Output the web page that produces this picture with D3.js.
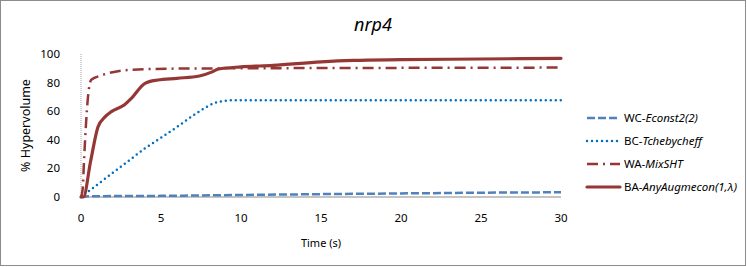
<!DOCTYPE html>
<html>
<head>
<meta charset="utf-8">
<script src="https://cdnjs.cloudflare.com/ajax/libs/d3/7.8.5/d3.min.js"></script>
<style>
  body { margin: 0; background: #fff; }
  text { font-family: "Noto Sans", "Open Sans", sans-serif; fill: #000; }
</style>
</head>
<body>
<div class="svg-container"></div>
<script>
// Data
const xTicks = [0, 5, 10, 15, 20, 25, 30];
const yTicks = [0, 20, 40, 60, 80, 100];

const wcEconst = [[0, 0], [0.5, 0.5], [5, 0.8], [10, 1.4], [15, 2], [20, 2.5], [25, 3], [30, 3.3]];
const bcTcheby = [[0, 0], [1, 8.5], [2, 17], [3, 25.5], [4, 34], [5, 41.5], [6, 49], [7, 57], [7.7, 62], [8.3, 65.5], [9, 67.3], [9.5, 67.7], [30, 67.7]];
const waMixSHT = [[0, 0], [0.1, 5], [0.2, 28], [0.42, 68], [0.64, 82], [1.27, 85], [2.9, 88.8], [6, 89.8], [10, 90], [20, 90.3], [30, 90.5]];
const baAnyAug = [[0, 0], [0.15, 0], [0.6, 25], [1.06, 49], [1.5, 56], [1.9, 59.7], [2.7, 64.3], [3.15, 69], [4, 79.5], [4.8, 81.8], [6, 83], [7.4, 84.6], [8.2, 87.5], [8.6, 89.5], [10, 91], [12, 92], [15, 94.5], [17, 95.5], [20, 96], [25, 96.5], [30, 97]];

const seriesNames = ['WC-', 'BC-', 'WA-', 'BA-'];
const seriesItalic = ['Econst2(2)', 'Tchebycheff', 'MixSHT', 'AnyAugmecon(1,λ)'];

// Layout
const W = 747, H = 267;
const margin = {top: 54, right: 186, bottom: 70, left: 81};
const width = W - margin.left - margin.right;
const height = H - margin.top - margin.bottom;

const svg = d3.select('.svg-container')
    .append('svg')
    .attr('width', W)
    .attr('height', H);

svg.append('rect')
    .attr('x', 0.5).attr('y', 0.5)
    .attr('width', W - 2).attr('height', H - 2)
    .attr('fill', '#fff')
    .attr('stroke', '#8c8c8c');

const g = svg.append('g')
    .attr('transform', `translate(${margin.left}, ${margin.top})`);

const x = d3.scaleLinear().domain([0, 30]).range([0, width]);
const y = d3.scaleLinear().domain([0, 100]).range([height, 0]);

// axes
g.append('line')
    .attr('x1', 0).attr('x2', 0)
    .attr('y1', 0).attr('y2', height)
    .attr('stroke', '#a6a6a6')
    .attr('stroke-dasharray', '1,1');

g.append('line')
    .attr('x1', 0).attr('x2', width)
    .attr('y1', height).attr('y2', height)
    .attr('stroke', '#b0b0b0')
    .attr('stroke-width', 1.5);

g.selectAll('.ytick')
    .data(yTicks)
    .enter().append('text')
      .attr('class', 'ytick')
      .attr('x', -21)
      .attr('y', d => y(d))
      .attr('dy', '0.35em')
      .attr('text-anchor', 'end')
      .style('font-size', '11.5px')
      .text(d => d);

g.selectAll('.xtick')
    .data(xTicks)
    .enter().append('text')
      .attr('class', 'xtick')
      .attr('x', d => x(d))
      .attr('y', height + 25)
      .attr('text-anchor', 'middle')
      .style('font-size', '11.5px')
      .text(d => d);

// series
const line = d3.line()
    .x(d => x(d[0]))
    .y(d => y(d[1]))
    .curve(d3.curveMonotoneX);

const styles = [
  {data: wcEconst, color: '#4f81bd', w: 2.5, dash: '8,3', cap: 'butt'},
  {data: bcTcheby, color: '#0070c0', w: 2.5, dash: '0,5', cap: 'round'},
  {data: waMixSHT, color: '#953735', w: 2.5, dash: '11,5,2,5', cap: 'butt'},
  {data: baAnyAug, color: '#953735', w: 3.2, dash: null, cap: 'round'}
];

styles.forEach(s => {
  g.append('path')
    .datum(s.data)
    .attr('fill', 'none')
    .attr('stroke', s.color)
    .attr('stroke-width', s.w)
    .attr('stroke-linecap', s.cap)
    .attr('stroke-dasharray', s.dash)
    .attr('d', line);
});

// title + axis labels
svg.append('text')
    .attr('x', 373)
    .attr('y', 31)
    .attr('text-anchor', 'middle')
    .style('font-size', '18px')
    .style('font-style', 'italic')
    .text('nrp4');

svg.append('text')
    .attr('x', 321)
    .attr('y', 247)
    .attr('text-anchor', 'middle')
    .style('font-size', '11px')
    .text('Time (s)');

svg.append('text')
    .attr('transform', `translate(30, ${margin.top + height / 2}) rotate(-90)`)
    .attr('text-anchor', 'middle')
    .style('font-size', '12.5px')
    .text('% Hypervolume');

// legend
const legend = svg.selectAll('.legend')
    .data(styles)
    .enter().append('g')
      .attr('class', 'legend')
      .attr('transform', (d, i) => `translate(587, ${118 + i * 23})`);

legend.append('line')
    .attr('x1', 0).attr('x2', 33)
    .attr('stroke', d => d.color)
    .attr('stroke-width', d => d.w)
    .attr('stroke-linecap', d => d.cap)
    .attr('stroke-dasharray', d => d.dash);

const lt = legend.append('text')
    .attr('x', 37)
    .attr('dy', '0.35em')
    .style('font-size', '11.5px');
lt.append('tspan').text((d, i) => seriesNames[i]);
lt.append('tspan').style('font-style', 'italic').text((d, i) => seriesItalic[i]);
</script>
</body>
</html>
